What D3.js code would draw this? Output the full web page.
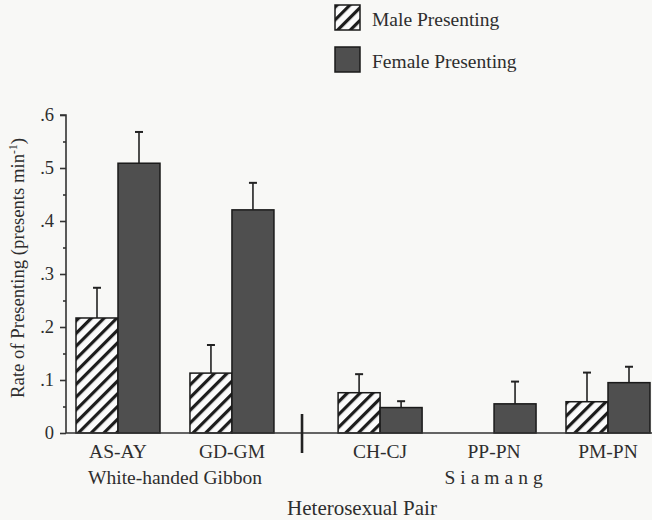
<!DOCTYPE html>
<html>
<head>
<meta charset="utf-8">
<script src="https://cdn.jsdelivr.net/npm/d3@7"></script>
<style>
  body { margin: 0; background: #f8f8f6; }
  svg { display: block; font-family: "Liberation Serif", "DejaVu Serif", serif; }
  text { fill: #2e2e2e; }
</style>
</head>
<body>
<svg id="chart" width="652" height="520"></svg>
<script>
const pairs = ["AS-AY", "GD-GM", "CH-CJ", "PP-PN", "PM-PN"];
const species = ["White-handed Gibbon", "White-handed Gibbon", "Siamang", "Siamang", "Siamang"];
const maleRate = [0.217, 0.113, 0.076, 0, 0.059];
const maleErr = [0.057, 0.053, 0.035, 0, 0.055];
const femaleRate = [0.509, 0.421, 0.048, 0.055, 0.095];
const femaleErr = [0.059, 0.051, 0.012, 0.042, 0.030];
const yTicks = [0, 0.1, 0.2, 0.3, 0.4, 0.5, 0.6];
const yMinorTicks = [0.05, 0.15, 0.25, 0.35, 0.45, 0.55];

const svg = d3.select("#chart");
const barW = 42;

// groups sit on slots; a gap is left between the two species
const speciesList = Array.from(new Set(species));
const slot = pairs.map((p, i) => i + 0.3 * speciesList.indexOf(species[i]));

const x = d3.scaleLinear().domain([0, 4.3]).range([118, 608]);
const y = d3.scaleLinear().domain([0, 0.6]).range([433, 115]);

const defs = svg.append("defs");
const hatch = defs.append("pattern")
  .attr("id", "hatch")
  .attr("patternUnits", "userSpaceOnUse")
  .attr("width", 9)
  .attr("height", 9)
  .attr("patternTransform", "rotate(45)");
hatch.append("rect").attr("width", 9).attr("height", 9).attr("fill", "#fbfbfb");
hatch.append("rect").attr("width", 3.2).attr("height", 9).attr("fill", "#1c1c1c");

const bars = [];
pairs.forEach((p, i) => {
  if (maleRate[i] > 0) bars.push({ x0: x(slot[i]) - barW, v: maleRate[i], e: maleErr[i], sex: "m" });
  bars.push({ x0: x(slot[i]), v: femaleRate[i], e: femaleErr[i], sex: "f" });
});

// error bars (upper only)
const err = svg.append("g").attr("stroke", "#222").attr("stroke-width", 1.6);
bars.forEach((d) => {
  const cx = d.x0 + barW / 2;
  err.append("line").attr("x1", cx).attr("x2", cx).attr("y1", y(d.v)).attr("y2", y(d.v + d.e));
  err.append("line").attr("x1", cx - 4).attr("x2", cx + 4).attr("y1", y(d.v + d.e)).attr("y2", y(d.v + d.e)).attr("stroke-width", 2);
});

svg.append("g")
  .selectAll("rect")
  .data(bars)
  .enter()
  .append("rect")
  .attr("x", (d) => d.x0)
  .attr("y", (d) => y(d.v))
  .attr("width", barW)
  .attr("height", (d) => y(0) - y(d.v))
  .attr("fill", (d) => (d.sex === "m" ? "url(#hatch)" : "#4f4f4f"))
  .attr("stroke", "#1a1a1a")
  .attr("stroke-width", 1.5);

// y axis
const yAxis = svg.append("g")
  .attr("transform", `translate(66,0)`)
  .call(d3.axisLeft(y).tickValues(yTicks).tickSize(6).tickPadding(6)
    .tickFormat((d) => (d === 0 ? "0" : "." + Math.round(d * 10))));
yAxis.select(".domain").attr("d", `M-6,${y(0.6)}H0V${y(0)}`).attr("stroke", "#333").attr("stroke-width", 1.6);
yAxis.selectAll(".tick line").attr("stroke", "#333").attr("stroke-width", 1.6);
yAxis.selectAll(".tick text").attr("font-size", 18.5).attr("font-family", "Liberation Serif").attr("fill", "#2e2e2e");

const yMinor = svg.append("g")
  .attr("transform", `translate(66,0)`)
  .call(d3.axisLeft(y).tickValues(yMinorTicks).tickSize(3).tickFormat(""));
yMinor.select(".domain").remove();
yMinor.selectAll(".tick line").attr("stroke", "#333").attr("stroke-width", 1.6);

// x baseline
svg.append("line")
  .attr("x1", 66).attr("x2", 652)
  .attr("y1", y(0)).attr("y2", y(0))
  .attr("stroke", "#333").attr("stroke-width", 1.6);

// divider between species
const divX = x((slot[1] + slot[2]) / 2) - 4;
svg.append("line")
  .attr("x1", divX).attr("x2", divX)
  .attr("y1", 414).attr("y2", 453)
  .attr("stroke", "#222").attr("stroke-width", 2.6);

// pair labels
svg.append("g")
  .selectAll("text")
  .data(pairs)
  .enter()
  .append("text")
  .attr("x", (d, i) => x(slot[i]))
  .attr("y", 458)
  .attr("text-anchor", "middle")
  .attr("font-size", 19.5)
  .text((d) => d);

// species labels
speciesList.forEach((s) => {
  const idx = pairs.map((p, i) => i).filter((i) => species[i] === s);
  const cx = (x(slot[idx[0]]) + x(slot[idx[idx.length - 1]])) / 2;
  svg.append("text")
    .attr("x", s === "Siamang" ? cx + 2 : cx)
    .attr("y", 484)
    .attr("text-anchor", "middle")
    .attr("font-size", 19.5)
    .attr("letter-spacing", s === "Siamang" ? 5 : 0)
    .text(s);
});

svg.append("text")
  .attr("x", 362)
  .attr("y", 515)
  .attr("text-anchor", "middle")
  .attr("font-size", 21)
  .text("Heterosexual Pair");

const yTitle = svg.append("text")
  .attr("transform", "translate(24,268) rotate(-90)")
  .attr("text-anchor", "middle")
  .attr("font-size", 18.7);
yTitle.append("tspan").text("Rate of Presenting (presents min");
yTitle.append("tspan").attr("font-size", 11.5).attr("dy", -7).text("-1");
yTitle.append("tspan").attr("dy", 7).text(")");

// legend
const legend = svg.append("g").attr("transform", "translate(335,5)");
const legendItems = [
  { label: "Male Presenting", fill: "url(#hatch)" },
  { label: "Female Presenting", fill: "#4f4f4f" },
];
legendItems.forEach((d, i) => {
  const g = legend.append("g").attr("transform", `translate(0,${i * 42})`);
  g.append("rect").attr("width", 25).attr("height", 25)
    .attr("fill", d.fill).attr("stroke", "#1a1a1a").attr("stroke-width", 1.5);
  g.append("text").attr("x", 37).attr("y", 21).attr("font-size", 19.5).text(d.label);
});
</script>
</body>
</html>
